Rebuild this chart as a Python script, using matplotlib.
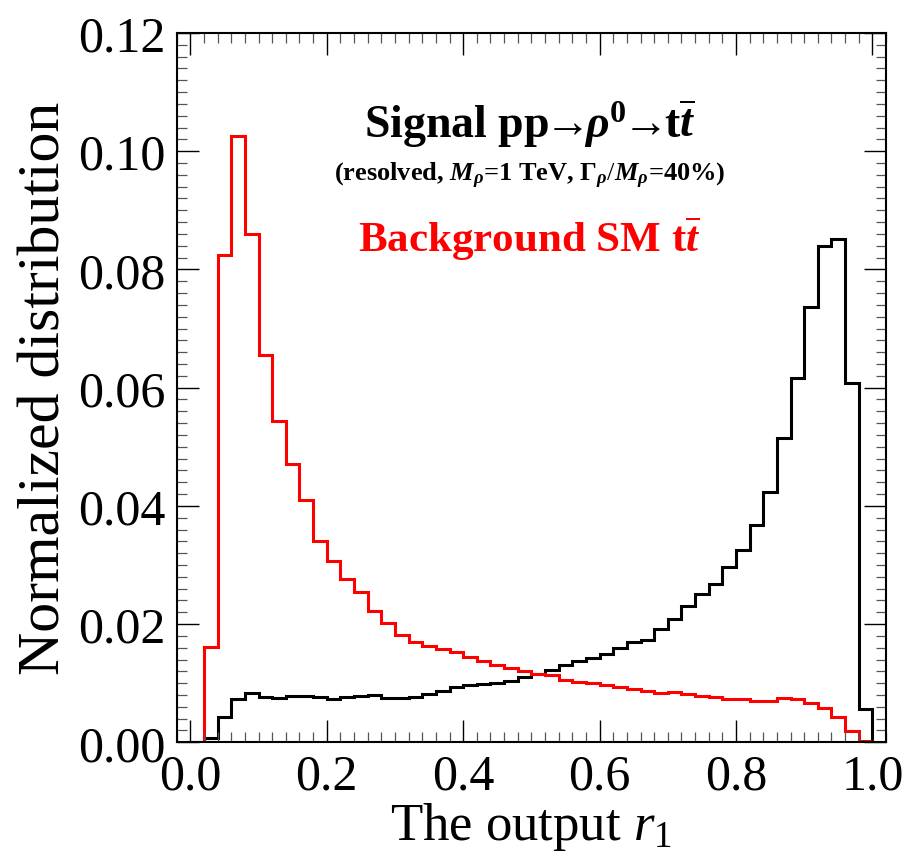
import numpy as np
import matplotlib

matplotlib.use("Agg")
import matplotlib.pyplot as plt
from matplotlib.ticker import MultipleLocator, FormatStrFormatter

plt.rcParams.update({
    "font.family": ["Liberation Serif", "DejaVu Serif"],
    "mathtext.fontset": "custom",
    "mathtext.rm": "Liberation Serif",
    "mathtext.it": "Liberation Serif:italic",
    "mathtext.bf": "Liberation Serif:bold",
    "mathtext.bfit": "Liberation Serif:bold:italic",
    "mathtext.fallback": "stix",
})

# bin edges of the network output r1 (50 bins of 0.02)
bin_lo = 0.0
bin_hi = 1.0
n_bins = 50

# normalized distribution, signal pp -> rho0 -> tt
signal = [
    0.0000, 0.0007, 0.0043, 0.0073, 0.0083, 0.0076, 0.0075, 0.0078, 0.0078, 0.0077,
    0.0074, 0.0077, 0.0079, 0.0080, 0.0075, 0.0075, 0.0076, 0.0082, 0.0087, 0.0094,
    0.0097, 0.0098, 0.0100, 0.0104, 0.0110, 0.0116, 0.0123, 0.0130, 0.0138, 0.0143,
    0.0150, 0.0159, 0.0169, 0.0173, 0.0192, 0.0208, 0.0231, 0.0251, 0.0268, 0.0296,
    0.0325, 0.0367, 0.0424, 0.0515, 0.0617, 0.0737, 0.0839, 0.0851, 0.0608, 0.0056,
]

# normalized distribution, SM tt background
background = [
    0.0000, 0.0161, 0.0825, 0.1026, 0.0860, 0.0656, 0.0544, 0.0470, 0.0410, 0.0341,
    0.0306, 0.0277, 0.0255, 0.0222, 0.0202, 0.0181, 0.0169, 0.0163, 0.0157, 0.0152,
    0.0145, 0.0138, 0.0131, 0.0125, 0.0121, 0.0116, 0.0114, 0.0106, 0.0102, 0.0101,
    0.0097, 0.0093, 0.0091, 0.0086, 0.0083, 0.0085, 0.0081, 0.0079, 0.0076, 0.0074,
    0.0073, 0.0070, 0.0070, 0.0075, 0.0073, 0.0066, 0.0058, 0.0042, 0.0019, 0.0002,
]

edges = np.linspace(bin_lo, bin_hi, n_bins + 1)

fig = plt.figure(figsize=(9.06, 8.62), dpi=100)
ax = fig.add_axes([0.195, 0.1377, 0.783, 0.8229])

ax.stairs(signal, edges, color="black", lw=2.2, baseline=0)
ax.stairs(background, edges, color="#ff0000", lw=2.2, baseline=0)

ax.set_xlim(-0.02, 1.02)
ax.set_ylim(0, 0.12)

ax.xaxis.set_major_locator(MultipleLocator(0.2))
ax.xaxis.set_minor_locator(MultipleLocator(0.02))
ax.yaxis.set_major_locator(MultipleLocator(0.02))
ax.yaxis.set_minor_locator(MultipleLocator(0.002))
ax.xaxis.set_major_formatter(FormatStrFormatter("%.1f"))
ax.yaxis.set_major_formatter(FormatStrFormatter("%.2f"))

ax.tick_params(which="both", direction="in", top=True, right=True,
               labelsize=36, pad=8)
ax.tick_params(which="major", length=15.5, width=1.0)
ax.tick_params(which="minor", length=7.2, width=0.9, color="#555555")
for s in ax.spines.values():
    s.set_linewidth(1.5)

ax.set_xlabel(r"The output $r_1$", fontsize=38, labelpad=0)
ax.set_ylabel("Normalized distribution", fontsize=43, labelpad=4)

ax.text(0.497, 0.1048,
        r"Signal pp$\!\!\mathbf{\rightarrow}\!\!\mathbfit{\rho}^{\mathbf{0}}\!\!\mathbf{\rightarrow}\!\!$t$\overline{\mathbfit{t}}$",
        fontsize=33, fontweight="bold", ha="center", va="center")
ax.text(0.497, 0.0959,
        r"(resolved, $\mathbfit{M}_{\mathbfit{\rho}}$=1 TeV, $\mathbf{\Gamma}_{\mathbfit{\rho}}/\mathbfit{M}_{\mathbfit{\rho}}$=40%)",
        fontsize=19, fontweight="bold", ha="center", va="center")
ax.text(0.497, 0.0854, r"Background SM t$\overline{\mathbfit{t}}$",
        fontsize=31, fontweight="bold", color="#ff0000",
        ha="center", va="center")

fig.savefig("out.png", dpi=100)
